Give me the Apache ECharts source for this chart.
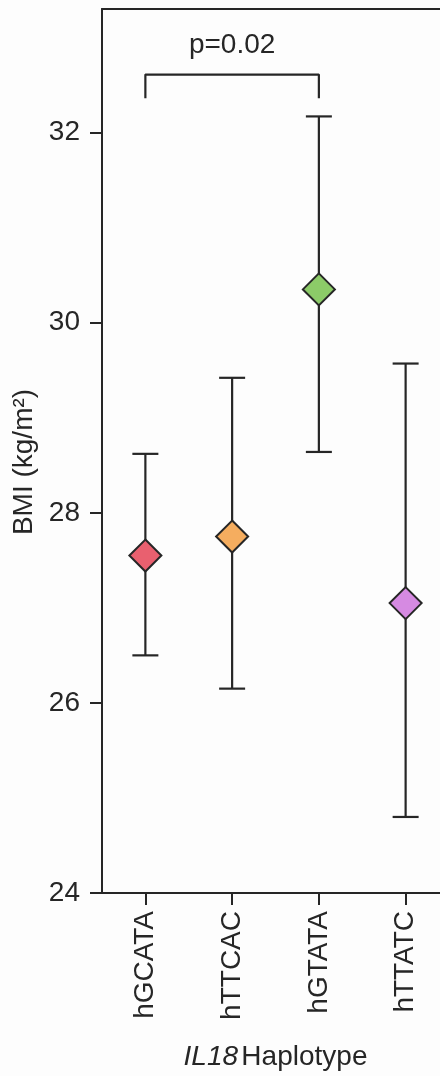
<!DOCTYPE html>
<html>
<head>
<meta charset="utf-8">
<script src="https://cdn.jsdelivr.net/npm/echarts@6/dist/echarts.min.js"></script>
<style>
  html, body { margin: 0; padding: 0; background: #fdfdfd; overflow: hidden; }
  #chart { width: 449px; height: 1076px; }
</style>
</head>
<body>
<div id="chart"></div>
<script>
// Mean BMI per IL18 haplotype with confidence interval
const categories = ['hGCATA', 'hTTCAC', 'hGTATA', 'hTTATC'];
const bmiMean  = [27.55, 27.75, 30.35, 27.05];
const bmiLower = [26.50, 26.15, 28.64, 24.80];
const bmiUpper = [28.62, 29.42, 32.17, 29.57];
const yTicks = [24, 26, 28, 30, 32];

// Pairwise comparison bracket (category indices and BMI levels)
const bracketFrom = 0;
const bracketTo = 2;
const bracketTop = 32.61;
const bracketFoot = 32.36;
const bracketText = 'p=0.02';

const markerColors = ['#e9606f', '#f5ad5f', '#8ccb68', '#d68ae2'];
const ink = '#262626';
const font = '"Liberation Sans", Arial, sans-serif';

const chart = echarts.init(document.getElementById('chart'), null, { renderer: 'canvas' });

const option = {
  backgroundColor: '#fdfdfd',
  animation: false,
  grid: { left: 102, top: 9, right: 0, bottom: 181 },
  xAxis: [{
    type: 'category',
    data: categories,
    position: 'bottom',
    axisLine: { lineStyle: { color: ink, width: 2 } },
    axisTick: { show: true, alignWithLabel: true, length: 12, lineStyle: { color: ink, width: 2 } },
    axisLabel: { rotate: 90, margin: 18, color: ink, fontSize: 28, fontFamily: font },
    name: '{i|IL18} {n|Haplotype}',
    nameLocation: 'middle',
    nameGap: 150,
    nameTextStyle: {
      rich: {
        i: { fontStyle: 'italic', fontSize: 28, fontFamily: font, color: ink },
        n: { fontSize: 28, fontFamily: font, color: ink }
      }
    }
  }, {
    type: 'category',
    data: categories,
    position: 'top',
    axisLine: { lineStyle: { color: ink, width: 2 } },
    axisTick: { show: false },
    axisLabel: { show: false }
  }],
  yAxis: {
    type: 'value',
    min: 24,
    max: 33.3,
    interval: 2,
    splitLine: { show: false },
    axisLine: { show: true, lineStyle: { color: ink, width: 2 } },
    axisTick: { show: true, length: 12, customValues: yTicks, lineStyle: { color: ink, width: 2 } },
    axisLabel: { customValues: yTicks, margin: 22, color: ink, fontSize: 28, fontFamily: font },
    name: 'BMI (kg/m²)',
    nameLocation: 'middle',
    nameGap: 55,
    nameTextStyle: { color: ink, fontSize: 28, fontFamily: font, padding: [0, 22, 0, 0] }
  },
  series: [
    {
      // confidence interval whiskers
      type: 'custom',
      data: categories.map((c, i) => [i, bmiLower[i], bmiUpper[i]]),
      renderItem: function (params, api) {
        const lo = api.coord([api.value(0), api.value(1)]);
        const hi = api.coord([api.value(0), api.value(2)]);
        const half = 13;
        const style = { stroke: ink, lineWidth: 2.2 };
        return {
          type: 'group',
          children: [
            { type: 'line', shape: { x1: lo[0], y1: lo[1], x2: hi[0], y2: hi[1] }, style: style },
            { type: 'line', shape: { x1: lo[0] - half, y1: lo[1], x2: lo[0] + half, y2: lo[1] }, style: style },
            { type: 'line', shape: { x1: hi[0] - half, y1: hi[1], x2: hi[0] + half, y2: hi[1] }, style: style }
          ]
        };
      },
      z: 2
    },
    {
      // group means
      type: 'scatter',
      symbol: 'diamond',
      symbolSize: [32, 32],
      data: bmiMean.map((v, i) => ({
        value: [i, v],
        itemStyle: { color: markerColors[i], borderColor: '#262626', borderWidth: 2, opacity: 1 }
      })),
      z: 3
    },
    {
      // significance bracket
      type: 'line',
      symbol: 'none',
      lineStyle: { color: ink, width: 2.2 },
      data: [
        [bracketFrom, bracketFoot],
        [bracketFrom, bracketTop],
        [bracketTo, bracketTop],
        [bracketTo, bracketFoot]
      ],
      z: 2
    },
    {
      type: 'scatter',
      symbolSize: 1,
      itemStyle: { color: 'transparent', opacity: 1 },
      data: [{
        value: [(bracketFrom + bracketTo) / 2, bracketTop],
        label: {
          show: true,
          position: 'top',
          distance: 15,
          formatter: bracketText,
          color: ink,
          opacity: 1,
          fontSize: 28,
          fontFamily: font
        }
      }],
      z: 4
    }
  ]
};

chart.setOption(option);
</script>
</body>
</html>
